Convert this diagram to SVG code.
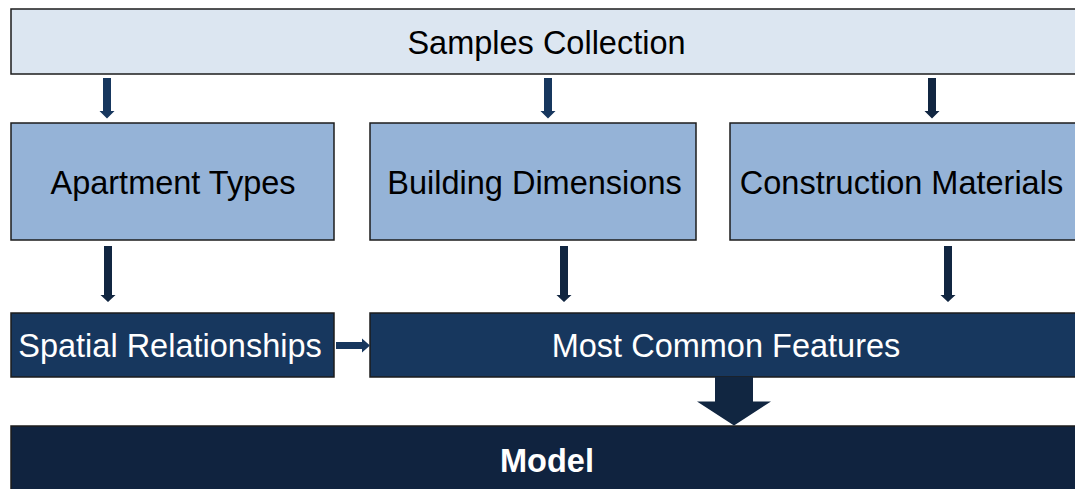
<svg xmlns="http://www.w3.org/2000/svg" width="1075" height="489" viewBox="0 0 1075 489">
<style>
.box{stroke:#1c1c1c;stroke-width:1.5}
.light{fill:#dce6f1}
.mid{fill:#95b3d7}
.dark{fill:#17375e}
.darker{fill:#10233f}
.t{font-family:"Liberation Sans",Arial,sans-serif;font-size:32.5px;text-anchor:middle}
.tk{fill:#000}
.tw{fill:#fff}
.arr{fill:#17375e}
.arr2{fill:#112641}
</style>
<rect width="1075" height="489" fill="#fff"/>
<g id="samples">
<rect class="box light" x="11" y="9" width="1071" height="65"/>
<text class="t tk" x="546.5" y="54">Samples Collection</text>
</g>
<g id="apartment">
<rect class="box mid" x="11" y="123" width="323" height="117"/>
<text class="t tk" x="173" y="194">Apartment Types</text>
</g>
<g id="building">
<rect class="box mid" x="370" y="123" width="326" height="117"/>
<text class="t tk" x="534.5" y="194">Building Dimensions</text>
</g>
<g id="construction">
<rect class="box mid" x="730" y="123" width="352" height="117"/>
<text class="t tk" x="901.5" y="194">Construction Materials</text>
</g>
<g id="spatial">
<rect class="box dark" x="11" y="313" width="323" height="64"/>
<text class="t tw" x="170" y="357">Spatial Relationships</text>
</g>
<g id="common">
<rect class="box dark" x="370" y="313" width="712" height="64"/>
<text class="t tw" x="726" y="357">Most Common Features</text>
</g>
<g id="model">
<rect class="box darker" x="11" y="426" width="1071" height="70"/>
<text class="t tw" x="547" y="472" font-weight="bold">Model</text>
</g>
<g id="connectors">
<path class="arr" d="M103,78 H111 V111 H114.5 L107,118.5 L99.5,111 H103 Z"/>
<path class="arr" d="M544,78 H552 V111 H555.5 L548,118.5 L540.5,111 H544 Z"/>
<path class="arr2" d="M928,78 H936 V111 H939.5 L932,118.5 L924.5,111 H928 Z"/>
<path class="arr2" d="M104,246 H112 V295 H115.5 L108,302 L100.5,295 H104 Z"/>
<path class="arr2" d="M560,246 H568 V295 H571.5 L564,302 L556.5,295 H560 Z"/>
<path class="arr2" d="M944,246 H952 V295 H955.5 L948,302 L940.5,295 H944 Z"/>
<path class="arr" d="M336,342 H362 V338.5 L370,345.5 L362,352.5 V349 H336 Z"/>
<path class="arr2" d="M715,377 H753 V401.5 H771 L734,425.5 L697,401.5 H715 Z"/>
</g>
</svg>
